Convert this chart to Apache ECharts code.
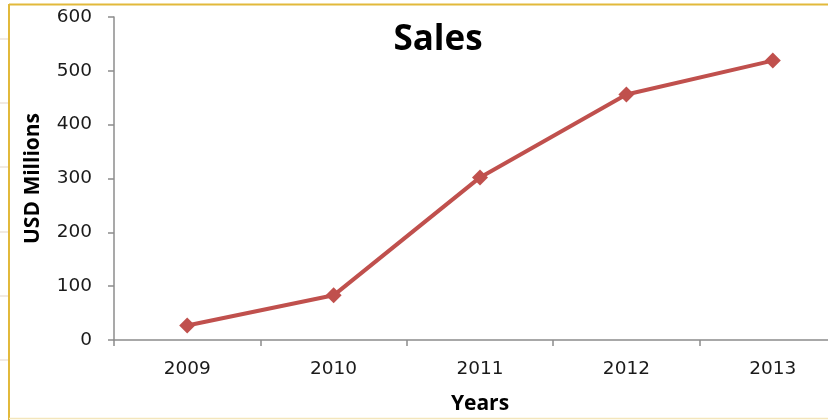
<!DOCTYPE html>
<html>
<head>
<meta charset="utf-8">
<script src="https://cdn.jsdelivr.net/npm/echarts@6/dist/echarts.min.js"></script>
<style>html,body{margin:0;padding:0;background:#fff;overflow:hidden;width:828px;height:420px}#c{width:828px;height:420px;overflow:hidden}</style>
</head>
<body>
<div id="c"></div>
<script>
var categories = ['2009', '2010', '2011', '2012', '2013'];
var salesValues = [27, 83, 302, 456, 519];
var yTicks = [0, 100, 200, 300, 400, 500, 600];

var chart = echarts.init(document.getElementById('c'), null, {renderer: 'canvas', width: 828, height: 420});
chart.setOption({
  animation: false,
  backgroundColor: '#ffffff',
  title: {
    text: 'Sales',
    left: 433, top: 18, textAlign: 'center',
    textStyle: {fontFamily: 'Open Sans', fontWeight: 'bold', fontSize: 35, color: '#000'}
  },
  grid: {left: 114, top: 17, height: 323, width: 732, outerBoundsMode: 'none', containLabel: false},
  xAxis: {
    type: 'category',
    data: categories,
    boundaryGap: true,
    name: 'Years',
    nameLocation: 'middle',
    nameGap: 54,
    nameTextStyle: {fontFamily: 'Open Sans', fontWeight: 'bold', fontSize: 21, color: '#000'},
    axisLine: {lineStyle: {color: '#8c8c8c', width: 1.5}},
    axisTick: {show: true, length: 6, alignWithLabel: false, lineStyle: {color: '#8c8c8c', width: 1.5}},
    axisLabel: {margin: 20, fontFamily: 'DejaVu Sans', fontSize: 18.5, color: '#1a1a1a'}
  },
  yAxis: {
    type: 'value',
    min: yTicks[0], max: yTicks[yTicks.length - 1], interval: 100,
    name: 'USD Millions',
    nameLocation: 'middle',
    nameGap: 70,
    nameRotate: 90,
    nameTextStyle: {fontFamily: 'Open Sans', fontWeight: 'bold', fontSize: 21, color: '#000'},
    axisLine: {show: true, lineStyle: {color: '#8c8c8c', width: 1.5}},
    axisTick: {show: true, length: 6, lineStyle: {color: '#8c8c8c', width: 1.5}},
    splitLine: {show: false},
    axisLabel: {margin: 22, fontFamily: 'DejaVu Sans', fontSize: 18.5, color: '#1a1a1a'}
  },
  series: [{
    type: 'line',
    data: salesValues,
    symbol: 'diamond',
    symbolSize: [16, 16],
    lineStyle: {color: '#C0504D', width: 4},
    itemStyle: {color: '#C0504D'}
  }],
  graphic: [
    {type: 'line', shape: {x1: 9, y1: 4.5, x2: 828, y2: 4.5}, style: {stroke: '#E2B93B', lineWidth: 2}},
    {type: 'line', shape: {x1: 9, y1: 4, x2: 9, y2: 420}, style: {stroke: '#E2B93B', lineWidth: 2}},
    {type: 'line', shape: {x1: 9, y1: 418.5, x2: 828, y2: 418.5}, style: {stroke: '#F3E6BC', lineWidth: 1.5}},
    {type: 'line', shape: {x1: 0, y1: 39, x2: 8, y2: 39}, style: {stroke: '#EDE3DA', lineWidth: 1.5}},
    {type: 'line', shape: {x1: 0, y1: 103, x2: 8, y2: 103}, style: {stroke: '#EDE3DA', lineWidth: 1.5}},
    {type: 'line', shape: {x1: 0, y1: 167, x2: 8, y2: 167}, style: {stroke: '#EDE3DA', lineWidth: 1.5}},
    {type: 'line', shape: {x1: 0, y1: 232, x2: 8, y2: 232}, style: {stroke: '#EDE3DA', lineWidth: 1.5}},
    {type: 'line', shape: {x1: 0, y1: 296, x2: 8, y2: 296}, style: {stroke: '#EDE3DA', lineWidth: 1.5}},
    {type: 'line', shape: {x1: 0, y1: 360, x2: 8, y2: 360}, style: {stroke: '#EDE3DA', lineWidth: 1.5}}
  ]
});
</script>
</body>
</html>
